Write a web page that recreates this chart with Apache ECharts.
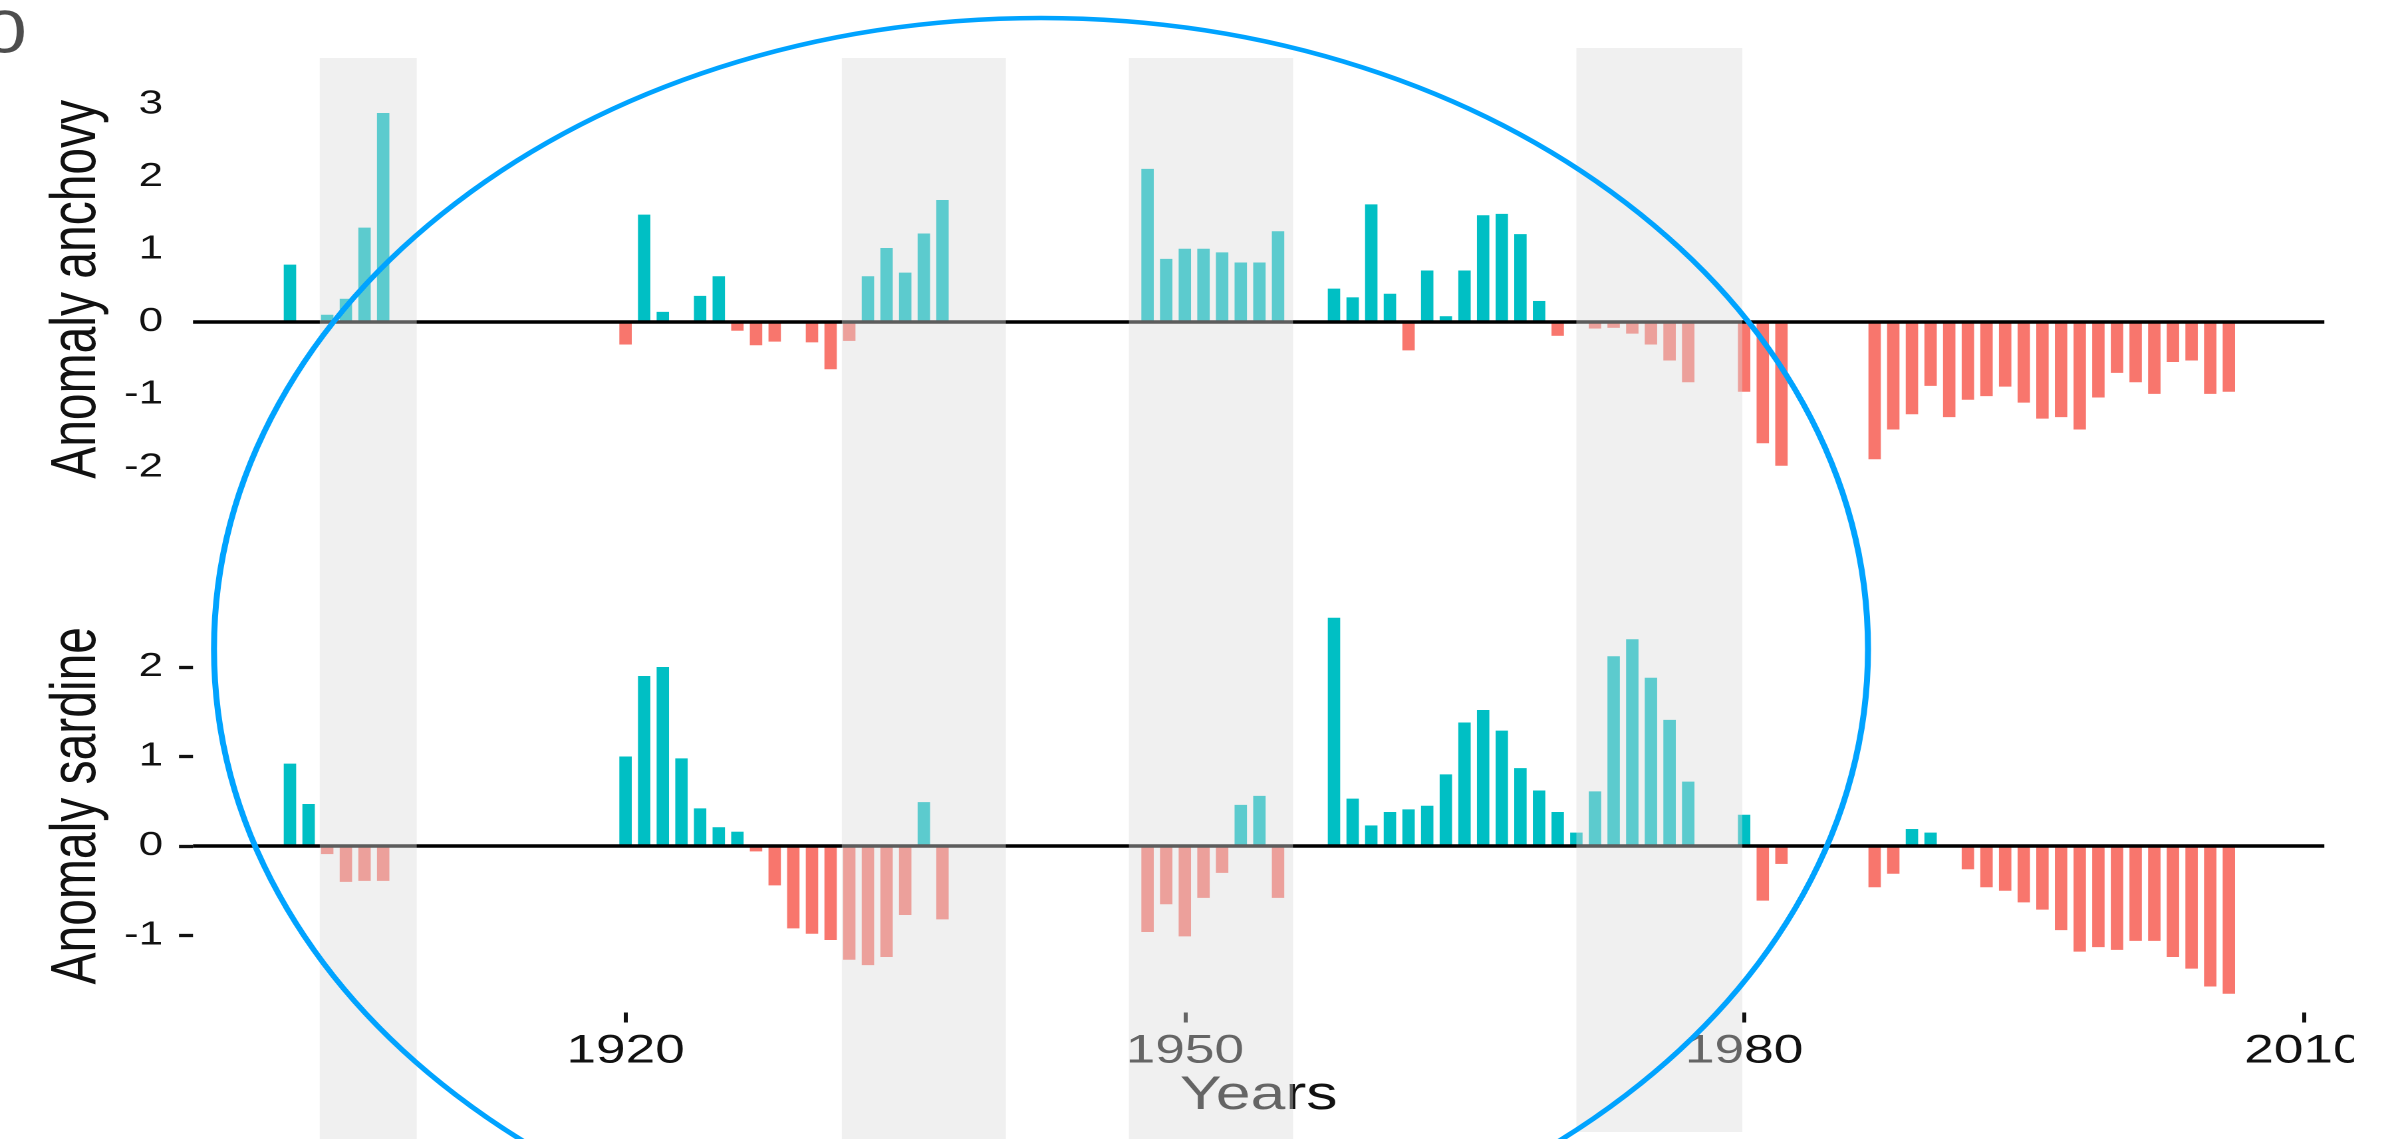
<!DOCTYPE html>
<html>
<head>
<meta charset="utf-8">
<title>Anchovy and sardine anomalies</title>
<script src="https://cdn.jsdelivr.net/npm/echarts@6/dist/echarts.min.js"></script>
<style>
  html, body { margin: 0; padding: 0; background: #ffffff; overflow: hidden; }
  #chart { position: absolute; left: 0; top: 0; }
</style>
</head>
<body>
<div id="chart"></div>
<script>
// ---- data ---------------------------------------------------------------
const anchovyYears = [1902, 1904, 1905, 1906, 1907,
  1920, 1921, 1922, 1924, 1925, 1926, 1927, 1928, 1930, 1931, 1932, 1933, 1934, 1935, 1936, 1937,
  1948, 1949, 1950, 1951, 1952, 1953, 1954, 1955,
  1958, 1959, 1960, 1961, 1962, 1963, 1964, 1965, 1966, 1967, 1968, 1969, 1970,
  1972, 1973, 1974, 1975, 1976, 1977, 1980, 1981, 1982,
  1987, 1988, 1989, 1990, 1991, 1992, 1993, 1994, 1995, 1996, 1997, 1998, 1999, 2000,
  2001, 2002, 2003, 2004, 2005, 2006];
const anchovyValues = [0.79, 0.10, 0.32, 1.30, 2.88,
  -0.31, 1.48, 0.14, 0.36, 0.63, -0.12, -0.32, -0.27, -0.28, -0.65, -0.26, 0.63, 1.02, 0.68, 1.22, 1.68,
  2.11, 0.87, 1.01, 1.01, 0.96, 0.82, 0.82, 1.25,
  0.46, 0.34, 1.62, 0.39, -0.39, 0.71, 0.08, 0.71, 1.47, 1.49, 1.21, 0.29, -0.19,
  -0.09, -0.08, -0.16, -0.31, -0.53, -0.83, -0.96, -1.67, -1.98,
  -1.89, -1.48, -1.27, -0.88, -1.31, -1.07, -1.02, -0.89, -1.11, -1.33, -1.31, -1.48, -1.04, -0.70,
  -0.83, -0.99, -0.55, -0.53, -0.99, -0.96];

const sardineYears = [1902, 1903, 1904, 1905, 1906, 1907,
  1920, 1921, 1922, 1923, 1924, 1925, 1926, 1927, 1928, 1929, 1930, 1931, 1932, 1933, 1934, 1935, 1936, 1937,
  1948, 1949, 1950, 1951, 1952, 1953, 1954, 1955,
  1958, 1959, 1960, 1961, 1962, 1963, 1964, 1965, 1966, 1967, 1968, 1969, 1970, 1971,
  1972, 1973, 1974, 1975, 1976, 1977, 1980, 1981, 1982,
  1987, 1988, 1989, 1990, 1992, 1993, 1994, 1995, 1996, 1997, 1998, 1999, 2000,
  2001, 2002, 2003, 2004, 2005, 2006];
const sardineValues = [0.92, 0.47, -0.09, -0.40, -0.39, -0.39,
  1.00, 1.90, 2.00, 0.98, 0.42, 0.21, 0.16, -0.06, -0.44, -0.92, -0.98, -1.05, -1.27, -1.33, -1.24, -0.77, 0.49, -0.82,
  -0.96, -0.65, -1.01, -0.58, -0.30, 0.46, 0.56, -0.58,
  2.55, 0.53, 0.23, 0.38, 0.41, 0.45, 0.80, 1.38, 1.52, 1.29, 0.87, 0.62, 0.38, 0.15,
  0.61, 2.12, 2.31, 1.88, 1.41, 0.72, 0.35, -0.61, -0.20,
  -0.46, -0.31, 0.19, 0.15, -0.26, -0.46, -0.50, -0.63, -0.71, -0.94, -1.18, -1.13, -1.16,
  -1.06, -1.06, -1.24, -1.37, -1.57, -1.65];

// shaded periods (years)
const shadeStart = [1903.6, 1931.6, 1947.0, 1971.0];
const shadeEnd   = [1908.8, 1940.4, 1955.8, 1979.9];

// axis ticks
const yearTicks = [1920, 1950, 1980, 2010];
const anchovyTicks = [-2, -1, 0, 1, 2, 3];
const sardineTicks = [-1, 0, 1, 2];

// ---- layout & style -------------------------------------------------------
const W = 2399, H = 1139;
const SX = 1.33;                       // horizontal stretch of the whole figure
const FONT = '"Liberation Sans", Arial, Helvetica, sans-serif';
const TEXT = '#111111';
const POS = '#00BFC4', NEG = '#F8766D';
const SHADE_FILL = 'rgba(219,219,219,0.42)';
const SHADE_TOP = [58, 58, 58, 48];
const SHADE_BOTTOM = [1145, 1145, 1145, 1132];
const X_MIN = 1896.8, X_MAX = 2011.12;

const el = document.getElementById('chart');
el.style.width = (W / SX) + 'px';
el.style.height = H + 'px';
el.style.transform = 'scaleX(' + SX + ')';
el.style.transformOrigin = '0 0';

const chart = echarts.init(el, null, { renderer: 'canvas', devicePixelRatio: 2 });

const px = v => v / SX;                // horizontal page px -> chart px
const gridLeft = px(193), gridRight = px(W - 2324);

function barData(years, values) {
  return years.map((y, i) => ({
    value: [y, values[i]],
    itemStyle: { color: values[i] >= 0 ? POS : NEG }
  }));
}

const zeroLine = {
  silent: true,
  symbol: 'none',
  label: { show: false },
  lineStyle: { color: '#000', width: 3.5, type: 'solid' },
  data: [{ yAxis: 0 }]
};

const plain = v => String(v);

const option = {
  backgroundColor: '#ffffff',
  animation: false,
  grid: [
    { left: gridLeft, right: gridRight, top: 95.3, height: 388.1 },
    { left: gridLeft, right: gridRight, top: 599, height: 413.5 }
  ],
  xAxis: [
    { gridIndex: 0, type: 'value', min: X_MIN, max: X_MAX, show: false },
    {
      gridIndex: 1, type: 'value', min: X_MIN, max: X_MAX, position: 'bottom',
      axisLine: { show: false, onZero: false },
      splitLine: { show: false },
      axisTick: { show: true, customValues: yearTicks, length: 10, lineStyle: { color: TEXT, width: 3 } },
      axisLabel: { customValues: yearTicks, formatter: plain, fontSize: 40, fontFamily: FONT, color: TEXT, margin: 19 },
      name: 'Years', nameLocation: 'middle', nameGap: 58,
      nameTextStyle: { fontSize: 47, fontFamily: FONT, color: TEXT }
    }
  ],
  yAxis: [
    {
      gridIndex: 0, type: 'value', min: -2.223, max: 3.123,
      axisLine: { show: false }, splitLine: { show: false },
      axisTick: { show: false },
      axisLabel: { customValues: anchovyTicks, formatter: plain, fontSize: 33, fontFamily: FONT, color: TEXT, margin: px(30) },
      name: 'Anomaly anchovy', nameLocation: 'middle', nameGap: 61, nameRotate: 90,
      nameTextStyle: { fontSize: 48, fontFamily: FONT, color: TEXT }
    },
    {
      gridIndex: 1, type: 'value', min: -1.86, max: 2.76,
      axisLine: { show: false }, splitLine: { show: false },
      axisTick: { show: true, customValues: sardineTicks, length: px(14), lineStyle: { color: TEXT, width: 3.3 } },
      axisLabel: { customValues: sardineTicks, formatter: plain, fontSize: 33, fontFamily: FONT, color: TEXT, margin: px(30) },
      name: 'Anomaly sardine', nameLocation: 'middle', nameGap: 61, nameRotate: 90,
      nameTextStyle: { fontSize: 48, fontFamily: FONT, color: TEXT }
    }
  ],
  series: [
    {
      name: 'Anomaly anchovy', type: 'bar', xAxisIndex: 0, yAxisIndex: 0,
      barWidth: px(12.4),
      data: barData(anchovyYears, anchovyValues),
      markLine: zeroLine
    },
    {
      name: 'Anomaly sardine', type: 'bar', xAxisIndex: 1, yAxisIndex: 1,
      barWidth: px(12.4),
      data: barData(sardineYears, sardineValues),
      markLine: zeroLine
    },
    {
      // translucent bands over the shaded periods, spanning both panels
      name: 'periods', type: 'custom', xAxisIndex: 0, yAxisIndex: 0,
      z: 10, silent: true, clip: false,
      encode: { x: [0, 1], y: 2 },
      data: shadeStart.map((s, i) => [s, shadeEnd[i], i]),
      renderItem: function (params, api) {
        const i = api.value(2);
        const x0 = api.coord([api.value(0), 0])[0];
        const x1 = api.coord([api.value(1), 0])[0];
        return {
          type: 'rect',
          shape: { x: x0, y: SHADE_TOP[i], width: x1 - x0, height: SHADE_BOTTOM[i] - SHADE_TOP[i] },
          style: { fill: SHADE_FILL }
        };
      }
    }
  ],
  graphic: [
    {
      type: 'text', z: 100, silent: true,
      x: px(27), y: 36,
      style: { text: '0', font: '60px ' + FONT, fill: '#4d4d4d', align: 'right', verticalAlign: 'middle' }
    },
    {
      type: 'rect', z: 90, silent: true,
      shape: { x: px(2354), y: 0, width: px(W - 2354) + 2, height: H },
      style: { fill: '#ffffff' }
    },
    {
      type: 'ellipse', z: 100, silent: true,
      shape: { cx: px(1041), cy: 649, rx: px(827), ry: 631 },
      style: { fill: 'none', stroke: '#00A3FF', lineWidth: 4.5 }
    }
  ]
};

chart.setOption(option);
</script>
</body>
</html>
